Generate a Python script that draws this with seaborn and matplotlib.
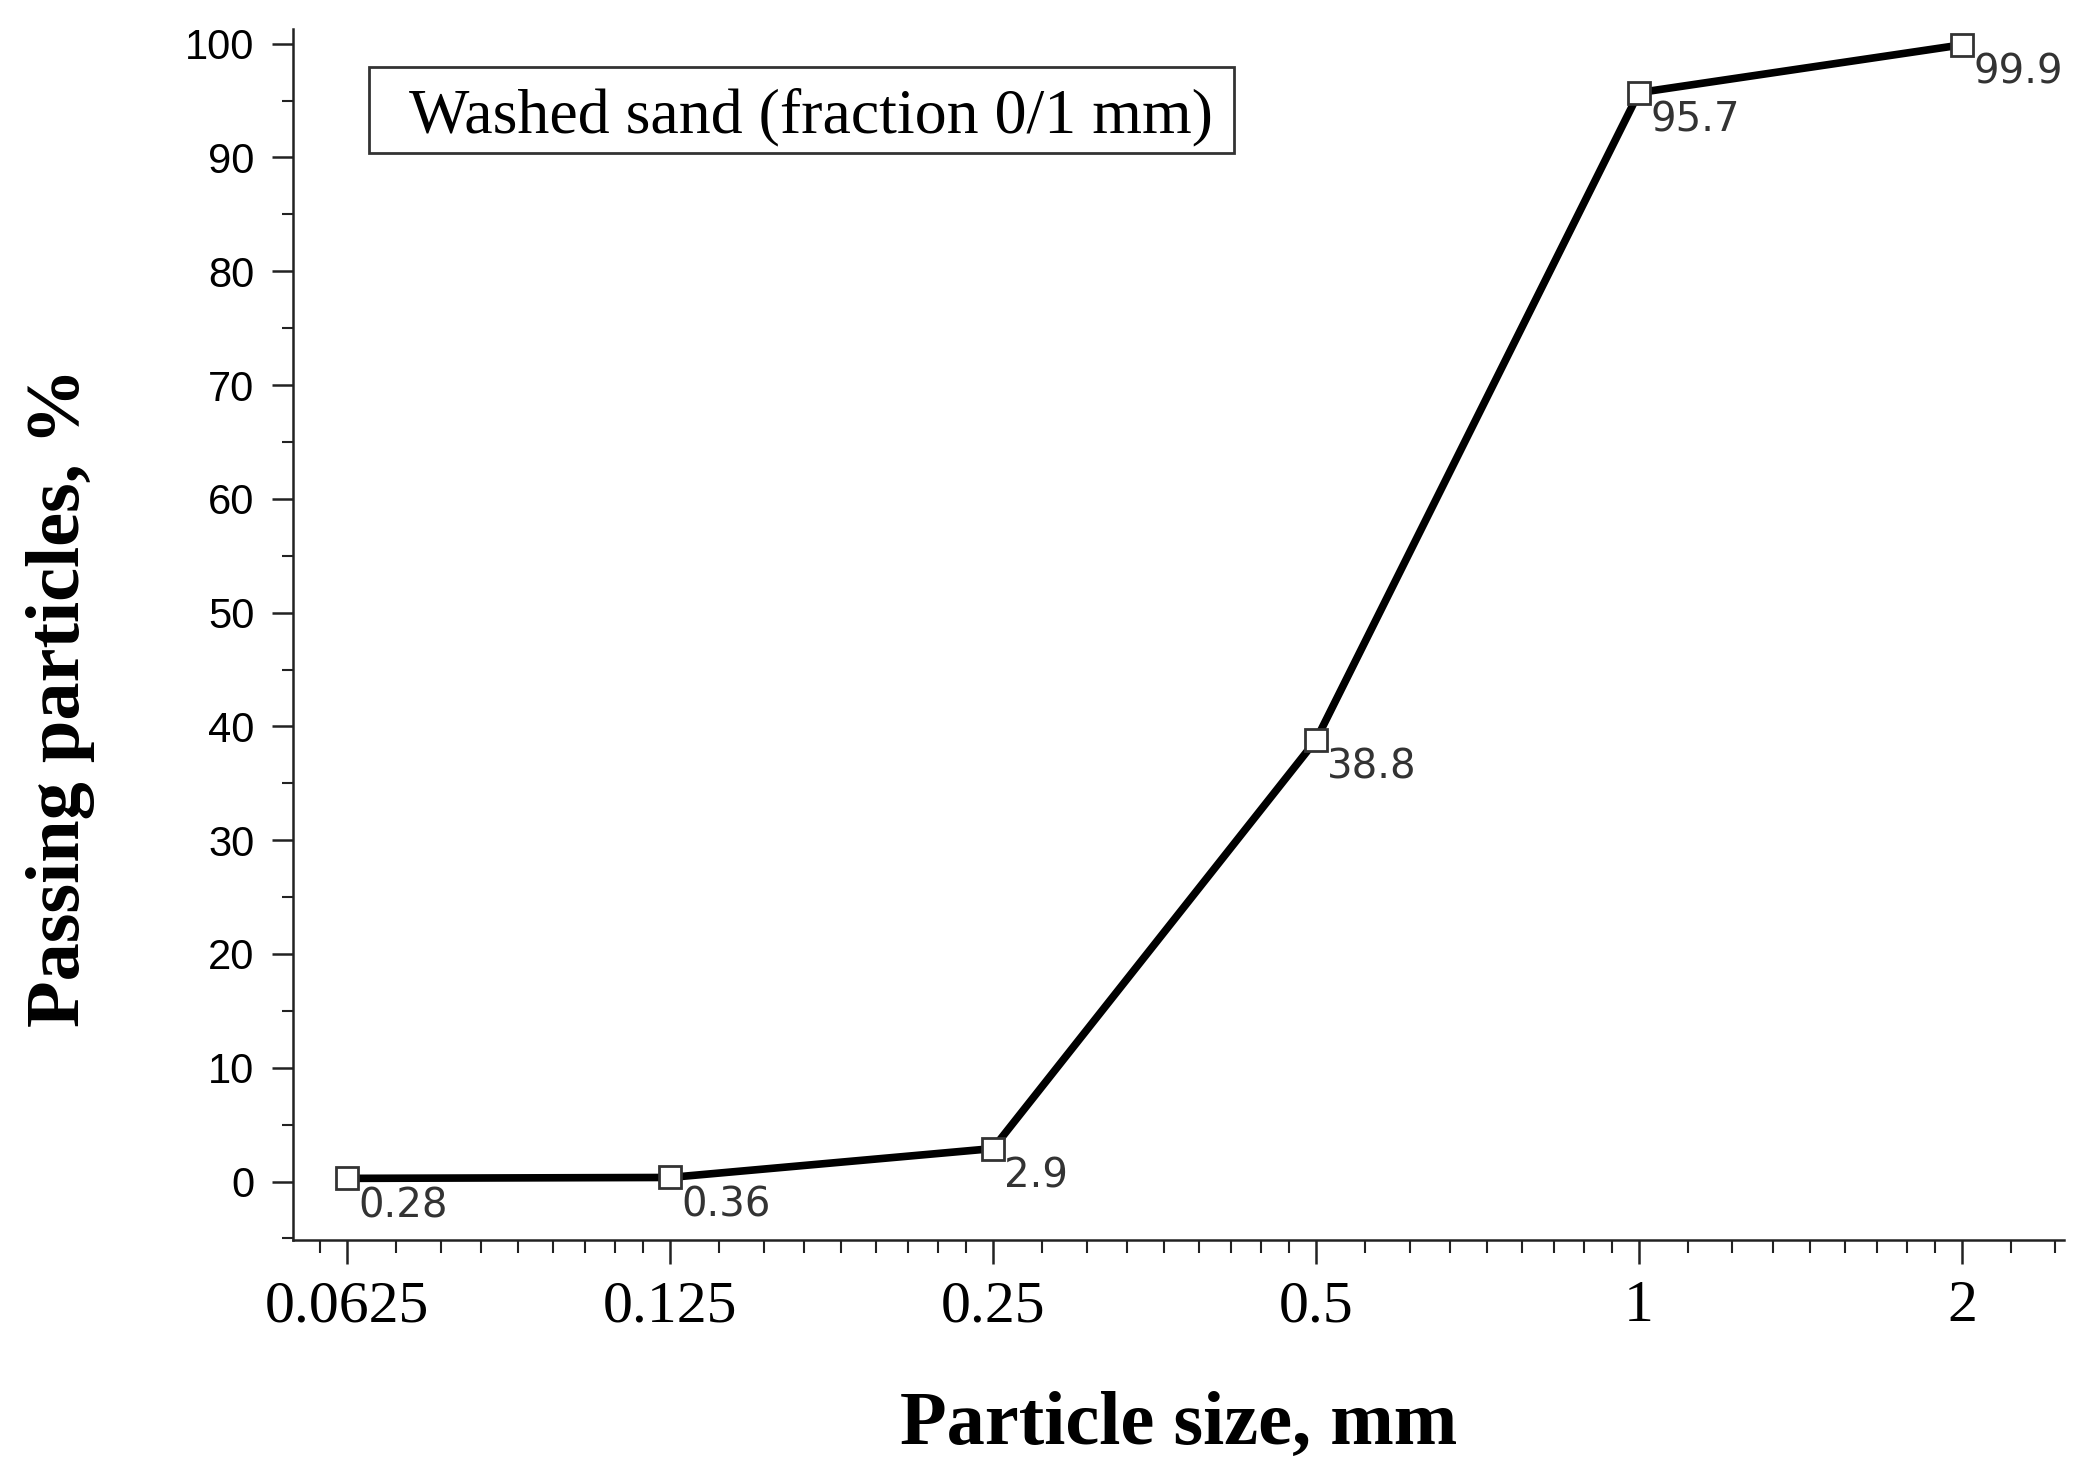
import numpy as np
import pandas as pd
import matplotlib
matplotlib.use("Agg")
import matplotlib.pyplot as plt
from matplotlib.ticker import FixedLocator, FixedFormatter, LogLocator, MultipleLocator, NullFormatter
from matplotlib.patches import Rectangle
from matplotlib import font_manager
import seaborn as sns

# ---- data ----
particle_size = [0.0625, 0.125, 0.25, 0.5, 1, 2]
passing = [0.28, 0.36, 2.9, 38.8, 95.7, 99.9]
point_labels = ["0.28", "0.36", "2.9", "38.8", "95.7", "99.9"]
x_tick_labels = ["0.0625", "0.125", "0.25", "0.5", "1", "2"]
y_ticks = list(range(0, 101, 10))
legend_text = "Washed sand (fraction 0/1 mm)"
x_label = "Particle size, mm"
y_label = "Passing particles, %"

df = pd.DataFrame({"size": particle_size, "passing": passing})

sns.set_style("ticks")
plt.rcParams["font.family"] = ["DejaVu Sans"]
plt.rcParams["text.color"] = "black"
plt.rcParams["xtick.color"] = "black"
plt.rcParams["ytick.color"] = "black"

names = {f.name for f in font_manager.fontManager.ttflist}
narrow = "Liberation Sans Narrow" if "Liberation Sans Narrow" in names else "Liberation Sans"
ysize = 34 if narrow == "Liberation Sans Narrow" else 30

fig = plt.figure(figsize=(20.83, 14.74), dpi=100)
ax = fig.add_axes([0.1407, 0.1588, 0.8502, 0.8216])

sns.lineplot(data=df, x="size", y="passing", ax=ax, color="black", linewidth=5.5,
             marker="s", markersize=16, markerfacecolor="white",
             markeredgecolor="#333333", markeredgewidth=2.0)

ax.set_xscale("log", base=2)
ax.set_xlim(0.0625 * 2 ** -0.167, 2 * 2 ** 0.316)
ax.set_ylim(-5.13, 101.3)

ax.xaxis.set_major_locator(FixedLocator(particle_size))
ax.xaxis.set_major_formatter(FixedFormatter(x_tick_labels))
ax.xaxis.set_minor_locator(LogLocator(base=2, subs=1 + np.arange(1, 9) / 9, numticks=60))
ax.xaxis.set_minor_formatter(NullFormatter())

ax.yaxis.set_major_locator(FixedLocator(y_ticks))
ax.yaxis.set_minor_locator(MultipleLocator(5))

for sp in ["top", "right"]:
    ax.spines[sp].set_visible(False)
for sp in ["left", "bottom"]:
    ax.spines[sp].set_linewidth(1.8)
    ax.spines[sp].set_color("#222222")

ax.tick_params(axis="x", which="major", direction="out", length=17, width=1.8, color="#222222", pad=12)
ax.tick_params(axis="x", which="minor", direction="out", length=9, width=1.5, color="#222222")
ax.tick_params(axis="y", which="major", direction="out", length=15, width=1.8, color="#222222", pad=13)
ax.tick_params(axis="y", which="minor", direction="out", length=8, width=1.5, color="#222222")

for lab in ax.get_xticklabels():
    lab.set_fontfamily("Liberation Serif")
    lab.set_fontsize(43)
    lab.set_color("black")
for lab in ax.get_yticklabels():
    lab.set_fontfamily(narrow)
    lab.set_fontsize(ysize)
    lab.set_color("black")

ax.set_xlabel(x_label, fontfamily="Liberation Serif", fontweight="bold", fontsize=55, color="black")
ax.set_ylabel(y_label, fontfamily="Liberation Serif", fontweight="bold", fontsize=55, color="black")
ax.xaxis.set_label_coords(0.5003, -0.125)
ax.yaxis.set_label_coords(-0.112, 0.448)

for xv, yv, t in zip(particle_size, passing, point_labels):
    ax.annotate(t, (xv, yv), xytext=(8, -20), textcoords="offset points",
                ha="left", va="center", fontsize=29, color="#333333",
                fontfamily="DejaVu Sans")

ax.add_patch(Rectangle((0.0429, 0.8976), 0.5313 - 0.0429, 0.9686 - 0.8976,
                       transform=ax.transAxes, facecolor="white", edgecolor="#333333",
                       linewidth=2, zorder=5, clip_on=False))
ax.text(0.0655, 0.927, legend_text, transform=ax.transAxes, ha="left", va="center",
        fontsize=46, fontfamily="Liberation Serif", color="black", zorder=6)

fig.savefig("out.png", dpi=100, facecolor="white")
